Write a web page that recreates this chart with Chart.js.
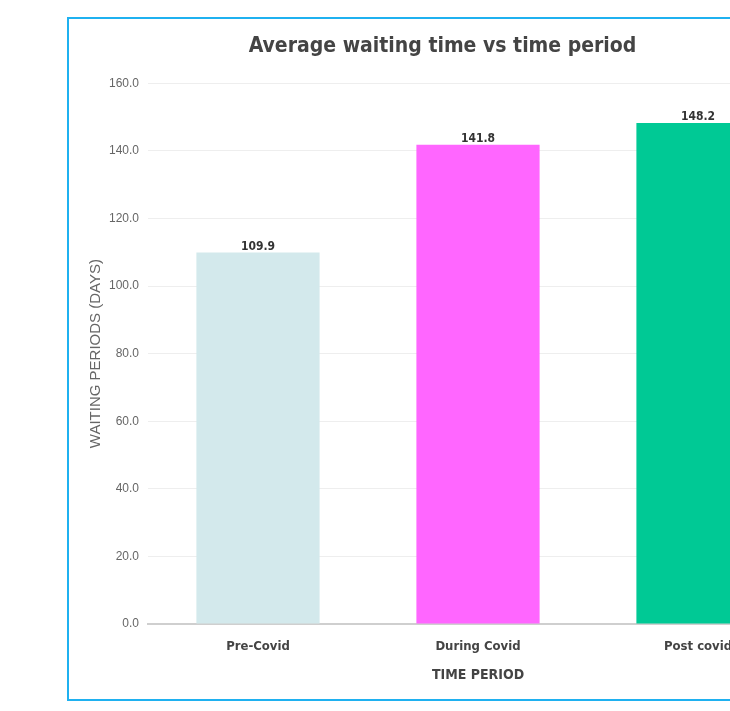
<!DOCTYPE html>
<html>
<head>
<meta charset="utf-8">
<script src="https://cdn.jsdelivr.net/npm/chart.js@4.4.1/dist/chart.umd.min.js"></script>
<style>
  html, body { margin: 0; padding: 0; background: #fff; overflow: hidden; width: 730px; height: 711px; }
  .frame {
    position: absolute; left: 67px; top: 17px;
    width: 756px; height: 680px;
    border: 2px solid #1fb1f0;
    background: #fff;
  }
  canvas { display: block; }
</style>
</head>
<body>
<div class="frame">
  <canvas id="chart" width="756" height="680"></canvas>
</div>
<script>
/* ── Data ────────────────────────────────────────── */
const periods = ['Pre-Covid', 'During Covid', 'Post covid'];
const avgWaitDays = [109.9, 141.8, 148.2];
const barColors = ['#d3e9ec', '#ff66ff', '#00c995'];
const yTicks = [0, 20, 40, 60, 80, 100, 120, 140, 160];

const NARROW = "'Liberation Sans Narrow', 'DejaVu Sans Condensed', 'Roboto Condensed', Arial, sans-serif";
const PLAIN = "'Liberation Sans', Arial, sans-serif";

// value labels above each bar
const barValueLabels = {
  id: 'barValueLabels',
  afterDatasetsDraw(chart) {
    const ctx = chart.ctx;
    const meta = chart.getDatasetMeta(0);
    ctx.save();
    ctx.font = 'bold 12px ' + NARROW;
    ctx.fillStyle = '#333';
    ctx.textAlign = 'center';
    ctx.textBaseline = 'middle';
    meta.data.forEach((bar, i) => {
      ctx.fillText(avgWaitDays[i].toFixed(1), bar.x, bar.y - 6);
    });
    ctx.restore();
  }
};

new Chart(document.getElementById('chart'), {
  type: 'bar',
  data: {
    labels: periods,
    datasets: [{
      data: avgWaitDays,
      backgroundColor: barColors,
      borderWidth: 0,
      categoryPercentage: 1,
      barPercentage: 0.56,
    }],
  },
  options: {
    responsive: false,
    animation: false,
    layout: { padding: { left: 8, right: 17, top: 0, bottom: 0 } },
    plugins: {
      legend: { display: false },
      tooltip: { enabled: false },
      title: {
        display: true,
        text: 'Average waiting time vs time period',
        color: '#444',
        font: { family: NARROW, size: 21, weight: 'bold' },
        padding: { top: 15, bottom: 24 },
      },
    },
    scales: {
      x: {
        afterFit: (s) => { s.height = 75; },
        grid: { display: false, drawTicks: false },
        border: { display: true, color: '#cfcfcf', width: 2 },
        ticks: { color: '#444', padding: 15, font: { family: NARROW, size: 13, weight: 'bold' } },
        title: {
          display: true,
          text: 'TIME PERIOD',
          color: '#444',
          font: { family: NARROW, size: 14, weight: 'bold' },
          padding: { top: 4, bottom: 15 },
        },
      },
      y: {
        min: 0,
        max: 160,
        afterFit: (s) => { s.width = 71; },
        afterBuildTicks: (s) => { s.ticks = yTicks.map((v) => ({ value: v })); },
        grid: { color: '#eeeeee', lineWidth: 1, drawTicks: false },
        border: { display: false },
        ticks: {
          color: '#666',
          padding: 9,
          font: { family: PLAIN, size: 12 },
          callback: (v) => Number(v).toFixed(1),
        },
        title: {
          display: true,
          text: 'WAITING PERIODS (DAYS)',
          color: '#666',
          font: { family: PLAIN, size: 15 },
          padding: { top: 10, bottom: 4 },
        },
      },
    },
  },
  plugins: [barValueLabels],
});
</script>
</body>
</html>
